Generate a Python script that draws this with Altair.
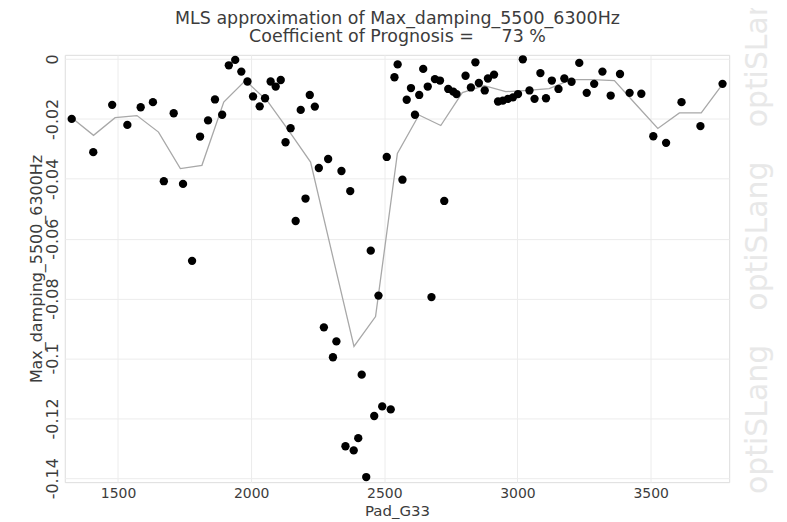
import altair as alt
import pandas as pd

# Sample points (Pad_G33, Max_damping_5500_6300Hz)
pad_g33 = [
    1326, 1407, 1478, 1535, 1585, 1631, 1672, 1709, 1744, 1778,
    1808, 1838, 1864, 1891, 1916, 1940, 1963, 1986, 2007, 2032,
    2052, 2073, 2092, 2111, 2129, 2148, 2167, 2186, 2204, 2220,
    2239, 2254, 2273, 2289, 2307, 2320, 2339, 2354, 2372, 2385,
    2402, 2415, 2432, 2449, 2462, 2478, 2492, 2509, 2524, 2538,
    2550, 2568, 2584, 2600, 2615, 2631, 2646, 2663, 2677, 2690,
    2709, 2725, 2740, 2759, 2771, 2805, 2825, 2842, 2855, 2877,
    2889, 2912, 2927, 2945, 2964, 2983, 3002, 3020, 3045, 3064,
    3086, 3107, 3129, 3154, 3176, 3203, 3232, 3260, 3288, 3319,
    3350, 3385, 3421, 3465, 3510, 3558, 3616, 3687, 3770]
max_damping = [
    -0.0200, -0.0311, -0.0153, -0.0220, -0.0161, -0.0144, -0.0408, -0.0181, -0.0417, -0.0674,
    -0.0259, -0.0205, -0.0135, -0.0186, -0.0021, -0.0003, -0.0042, -0.0075, -0.0125, -0.0158,
    -0.0131, -0.0075, -0.0092, -0.0070, -0.0278, -0.0231, -0.0541, -0.0170, -0.0466, -0.0120,
    -0.0159, -0.0364, -0.0896, -0.0334, -0.0996, -0.0943, -0.0374, -0.1293, -0.0441, -0.1307,
    -0.1266, -0.1054, -0.1396, -0.0640, -0.1192, -0.0790, -0.1160, -0.0327, -0.1170, -0.0061,
    -0.0018, -0.0403, -0.0136, -0.0097, -0.0186, -0.0120, -0.0033, -0.0092, -0.0795, -0.0067,
    -0.0072, -0.0474, -0.0100, -0.0109, -0.0117, -0.0056, -0.0095, -0.0011, -0.0080, -0.0105,
    -0.0065, -0.0052, -0.0142, -0.0139, -0.0133, -0.0128, -0.0117, -0.0001, -0.0105, -0.0133,
    -0.0047, -0.0131, -0.0072, -0.0100, -0.0065, -0.0076, -0.0013, -0.0113, -0.0083, -0.0042,
    -0.0122, -0.0050, -0.0113, -0.0116, -0.0258, -0.0280, -0.0144, -0.0224, -0.0083]

# MLS approximation curve
fit_x = [1326, 1408, 1489, 1571, 1652, 1734, 1815, 1897, 1978, 2060, 2141,
         2223, 2304, 2386, 2467, 2549, 2630, 2712, 2793, 2875, 2956, 3038,
         3119, 3201, 3282, 3364, 3445, 3527, 3608, 3690, 3771]
fit_y = [-0.0196, -0.0255, -0.0196, -0.0189, -0.0244, -0.0366, -0.0355, -0.0144,
         -0.0072, -0.0139, -0.0239, -0.0344, -0.0651, -0.0960, -0.0860, -0.0315,
         -0.0187, -0.0222, -0.0112, -0.0089, -0.0109, -0.0105, -0.0099, -0.0069,
         -0.0069, -0.0072, -0.0152, -0.0232, -0.0180, -0.0180, -0.0083]

x_ticks = [1500, 2000, 2500, 3000, 3500]
y_ticks = [0, -0.02, -0.04, -0.06, -0.08, -0.1, -0.12, -0.14]

title_lines = ["MLS approximation of Max_damping_5500_6300Hz",
               "Coefficient of Prognosis =\u00a0\u00a0\u00a0\u00a0\u00a073 %"]

pts = pd.DataFrame({"x": pad_g33, "y": max_damping})
fit = pd.DataFrame({"x": fit_x, "y": fit_y})
one = pts.head(1)

FONT = "DejaVu Sans"
TXT = "#3c3c3c"

xscale = alt.Scale(domain=[1300, 3795], nice=False, zero=False)
yscale = alt.Scale(domain=[-0.1413, 0.0014], nice=False, zero=False)

xaxis = alt.Axis(values=x_ticks, title="Pad_G33", grid=True, gridColor="#ececec",
                 tickSize=0, labelPadding=4, domain=False, format="d",
                 labelFont=FONT, labelFontSize=14, labelColor=TXT,
                 titleFont=FONT, titleFontSize=15, titleColor=TXT,
                 titleFontWeight="normal", titlePadding=3)
yaxis = alt.Axis(values=y_ticks, title="Max_damping_5500_6300Hz", grid=True,
                 gridColor="#ececec", tickSize=0, labelPadding=4, domain=False,
                 labelAngle=270, labelAlign="center", labelBaseline="bottom",
                 labelExpr="'' + datum.value", labelFont=FONT, labelFontSize=16,
                 labelColor=TXT, titleFont=FONT, titleFontSize=16, titleColor=TXT,
                 titleFontWeight="normal", titlePadding=0)

line = alt.Chart(fit).mark_line(color="#a8a8a8", strokeWidth=1.3).encode(
    x=alt.X("x:Q", scale=xscale, axis=xaxis),
    y=alt.Y("y:Q", scale=yscale, axis=yaxis),
)
points = alt.Chart(pts).mark_circle(color="#000000", size=70, opacity=1).encode(
    x=alt.X("x:Q", scale=xscale),
    y=alt.Y("y:Q", scale=yscale),
)

# chart title, drawn as text so that the watermark does not push it away
title_layers = []
for txt, yy in zip(title_lines, [-36, -18]):
    title_layers.append(
        alt.Chart(one).mark_text(text=txt, font=FONT, fontSize=17.5, color=TXT,
                                 align="center", baseline="middle").encode(
            x=alt.value(334), y=alt.value(yy))
    )

# optiSLang watermark on the right
wm_layers = []
for yy in [-2, 182, 366]:
    wm_layers.append(
        alt.Chart(one).mark_text(text="optiSLang", angle=270, font=FONT,
                                 fontSize=30, color="#e8e8e8", align="center",
                                 baseline="middle").encode(
            x=alt.value(696), y=alt.value(yy))
    )

chart = alt.layer(line, points, *title_layers, *wm_layers).properties(
    width=667, height=429,
    autosize=alt.AutoSizeParams(type="none"),
    padding={"left": 57, "top": 46, "right": 50, "bottom": 38},
).configure_view(stroke="#c4c4c4", strokeWidth=1.2).configure(background="white")

chart.save("out.html", embed_options={"renderer": "svg", "actions": False})
